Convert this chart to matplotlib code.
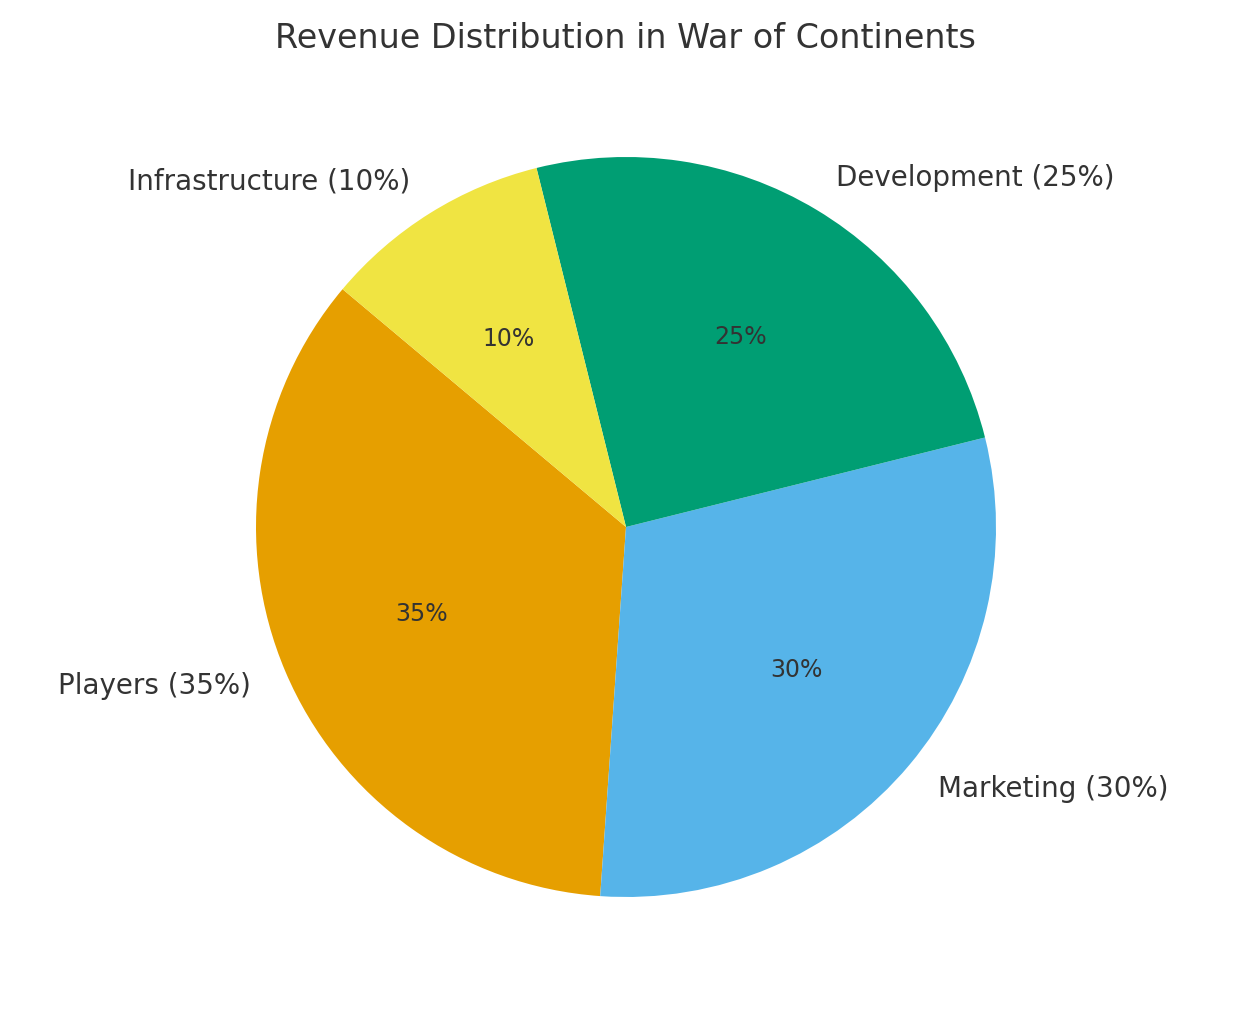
import matplotlib
matplotlib.use("Agg")
import matplotlib.pyplot as plt

categories = ["Players", "Marketing", "Development", "Infrastructure"]
shares = [35, 30, 25, 10]
colors = ["#E69F00", "#56B4E9", "#009E73", "#F0E442"]

labels = [f"{c} ({s}%)" for c, s in zip(categories, shares)]

W, H = 1234, 1010
fig = plt.figure(figsize=(W / 100, H / 100), dpi=100)
# pie centre ~ (626, 527 from top), radius ~370 px
cx, cy, half = 626, H - 527, 400
ax = fig.add_axes([(cx - half) / W, (cy - half) / H, 2 * half / W, 2 * half / H])
wedges, texts, autotexts = ax.pie(
    shares, labels=labels, colors=colors, autopct="%1.0f%%",
    startangle=140, textprops={"fontsize": 20, "color": "#333333"},
)
for t in autotexts:
    t.set_fontsize(17)
lim = half / 370
ax.set_xlim(-lim, lim)
ax.set_ylim(-lim, lim)
ax.set_aspect("equal")
fig.text(0.507, 1 - 38 / H, "Revenue Distribution in War of Continents",
         fontsize=24, color="#333333", ha="center", va="center")
fig.savefig("out.png", dpi=100)
